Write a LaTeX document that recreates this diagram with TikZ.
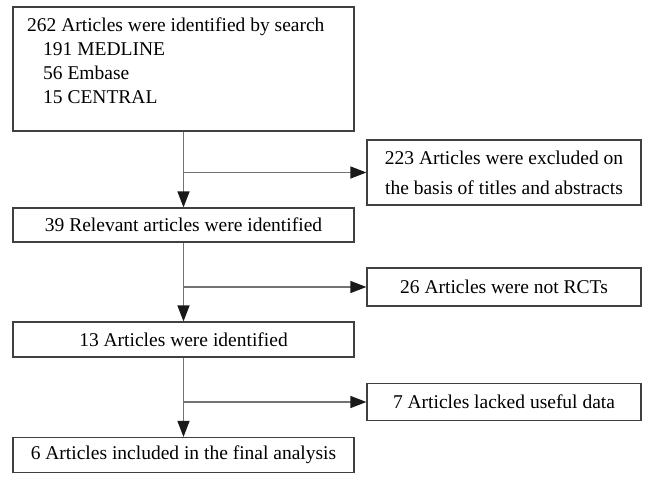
\documentclass[tikz,border=0pt]{standalone}
\usepackage{fontspec}
\setmainfont{Liberation Serif}
\usetikzlibrary{arrows.meta}
\begin{document}
\begin{tikzpicture}[x=1pt,y=-1pt,
  box/.style={draw=black!75, line width=1.2pt, inner sep=0pt, font=\fontsize{19.5}{24}\selectfont},
  wide/.style={box, minimum width=341pt},
  side/.style={box, minimum width=274pt},
  txt/.style={inner sep=0pt, font=\fontsize{19.5}{24}\selectfont},
  arr/.style={draw=black!55, line width=1.3pt, -{Triangle[length=16pt,width=12pt,color=black!90]}},
  ln/.style={draw=black!55, line width=1.3pt}]
\useasboundingbox (0,0) rectangle (649,480);
\node[wide, minimum height=124pt] (b1) at (183.5,69) {};
\node[txt, anchor=north west, align=left] (t1) at (27,18)
  {262 Articles were identified by search\\
   \hspace*{16pt}191 MEDLINE\\
   \hspace*{16pt}56 Embase\\
   \hspace*{16pt}15 CENTRAL};
\node[side, minimum height=65pt, align=center, font=\fontsize{19.5}{30}\selectfont] (b2) at (504,172.5)
  {223 Articles were excluded on\\the basis of titles and abstracts};
\node[wide, minimum height=34pt] (b3) at (183.5,225) {39 Relevant articles were identified};
\node[side, minimum height=38pt] (b5) at (504,287) {26 Articles were not RCTs};
\node[wide, minimum height=35pt] (b4) at (183.5,339.5) {13 Articles were identified};
\node[side, minimum height=37pt] (b6) at (504,402) {7 Articles lacked useful data};
\node[wide, minimum height=35pt] (b7) at (183.5,455) {6 Articles included in the final analysis};
\coordinate (j1) at (b1.south |- b2.west);
\coordinate (j2) at (b3.south |- b5.west);
\coordinate (j3) at (b4.south |- b6.west);
\draw[arr] (b1.south) -- (b3.north);
\draw[arr] (j1) -- (b2.west);
\draw[arr] (b3.south) -- (b4.north);
\draw[arr] (j2) -- (b5.west);
\draw[arr] (b4.south) -- (b7.north);
\draw[arr] (j3) -- (b6.west);
\end{tikzpicture}
\end{document}
